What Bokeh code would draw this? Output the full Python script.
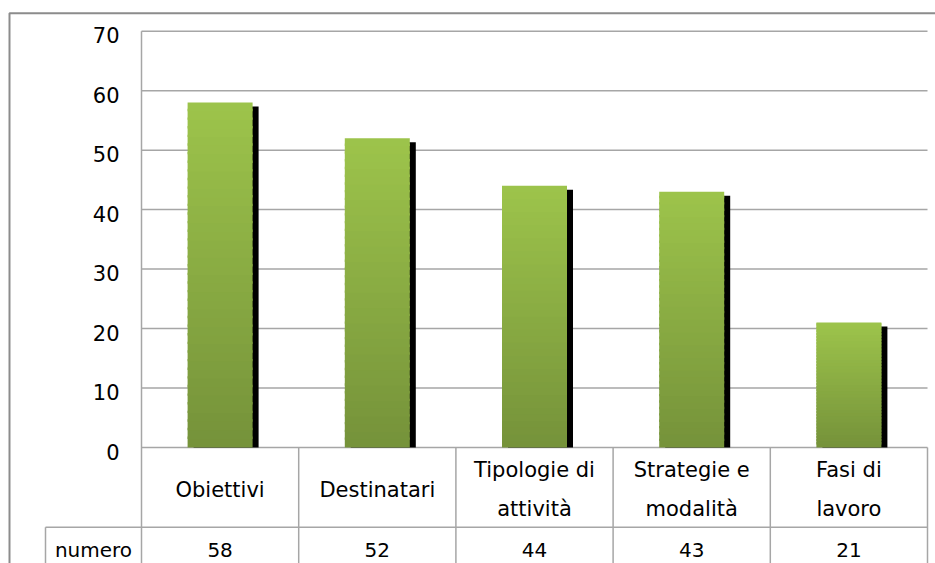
from bokeh.plotting import figure
from bokeh.models import Range1d, ColumnDataSource
from bokeh.core.properties import value
from bokeh.embed import file_html
from bokeh.resources import INLINE

# ---- data ----
categories = ["Obiettivi", "Destinatari", "Tipologie di\nattività",
              "Strategie e\nmodalità", "Fasi di\nlavoro"]
values = [58, 52, 44, 43, 21]
series_name = "numero"
y_ticks = [0, 10, 20, 30, 40, 50, 60, 70]
y_tick_labels = ["0", "10", "20", "30", "40", "50", "60", "70"]

# ---- layout (pixels) ----
W, H = 935, 563
PLOT_L, PLOT_R = 141, 927                # px of plot area
Y0_PX, Y70_PX = 447, 30.7                # px (from top) of 0 and 70
n = len(categories)
xs = (PLOT_R - PLOT_L) / n               # px per category
ys = (Y0_PX - Y70_PX) / 70.0             # px per unit

x_start = -PLOT_L / xs
x_end = (W - PLOT_L) / xs
y_end = 70 + Y70_PX / ys
y_start = -(H - Y0_PX) / ys

def px_x(px):
    return (px - PLOT_L) / xs

def px_y(px):
    return (Y0_PX - px) / ys

p = figure(width=W, height=H, output_backend="svg", toolbar_location=None,
           x_range=Range1d(x_start, x_end), y_range=Range1d(y_start, y_end),
           min_border=0, outline_line_color=None)
p.axis.visible = False
p.grid.visible = False
p.background_fill_color = "white"
p.border_fill_color = "white"

FONT = value("DejaVu Sans")
GRID = "#a6a6a6"
BORDER = "#8c8c8c"

# outer chart border (left and top)
p.line([px_x(9), px_x(9), x_end], [y_start, px_y(12.7), px_y(12.7)],
       line_color=BORDER, line_width=2)

# horizontal gridlines
p.segment(x0=[0] * len(y_ticks), x1=[n] * len(y_ticks), y0=y_ticks, y1=y_ticks,
          line_color=GRID, line_width=1.5)
# vertical axis line
p.segment(x0=[0], x1=[0], y0=[y_start], y1=[70], line_color=GRID, line_width=1.5)

# data table lines
row_y = px_y(526.7)
left_cell = px_x(45)
p.segment(x0=list(range(1, n + 1)), x1=list(range(1, n + 1)),
          y0=[0] * n, y1=[y_start] * n, line_color=GRID, line_width=1.5)
p.segment(x0=[left_cell], x1=[n], y0=[row_y], y1=[row_y], line_color=GRID, line_width=1.5)
p.segment(x0=[left_cell], x1=[left_cell], y0=[row_y], y1=[y_start],
          line_color=GRID, line_width=1.5)

# bars
bw = 65 / xs
sdx = 6 / xs
sdy = 4 / ys
centers = [i + 0.5 for i in range(n)]

p.quad(left=[c - bw / 2 + sdx for c in centers], right=[c + bw / 2 + sdx for c in centers],
       bottom=[0] * n, top=[v - sdy for v in values], fill_color="black", line_color=None)

top_rgb = (157, 196, 75)
bot_rgb = (117, 146, 58)
N = 40
L, R, B, T, C = [], [], [], [], []
for c, v in zip(centers, values):
    for k in range(N):
        f = (k + 0.5) / N
        rgb = tuple(int(round(bot_rgb[j] + (top_rgb[j] - bot_rgb[j]) * f)) for j in range(3))
        L.append(c - bw / 2)
        R.append(c + bw / 2)
        B.append(v * k / N)
        T.append(min(v, v * (k + 1) / N + 0.4))
        C.append("#%02x%02x%02x" % rgb)
p.quad(left="l", right="r", bottom="b", top="t", fill_color="c", line_color=None,
       source=ColumnDataSource(dict(l=L, r=R, b=B, t=T, c=C)))

# y tick labels
p.text(x=[px_x(119)] * len(y_ticks), y=y_ticks, text=y_tick_labels,
       text_align="right", text_baseline="middle", y_offset=4,
       text_font=FONT, text_font_size="21px", text_color="#000000")

# category labels (table header row)
header_y = px_y(489)
p.text(x=centers, y=[header_y] * n, text=categories, text_align="center",
       text_baseline="middle", text_line_height=1.6,
       text_font=FONT, text_font_size="21px", text_color="#000000")

# value row
val_y = px_y(549)
p.text(x=centers, y=[val_y] * n, text=[str(v) for v in values], text_align="center",
       text_baseline="middle", text_font=FONT, text_font_size="20px", text_color="#000000")
p.text(x=[(left_cell + 0) / 2], y=[val_y], text=[series_name], text_align="center",
       text_baseline="middle", text_font=FONT, text_font_size="20px", text_color="#000000")

open("out.html", "w").write(file_html(p, INLINE))
